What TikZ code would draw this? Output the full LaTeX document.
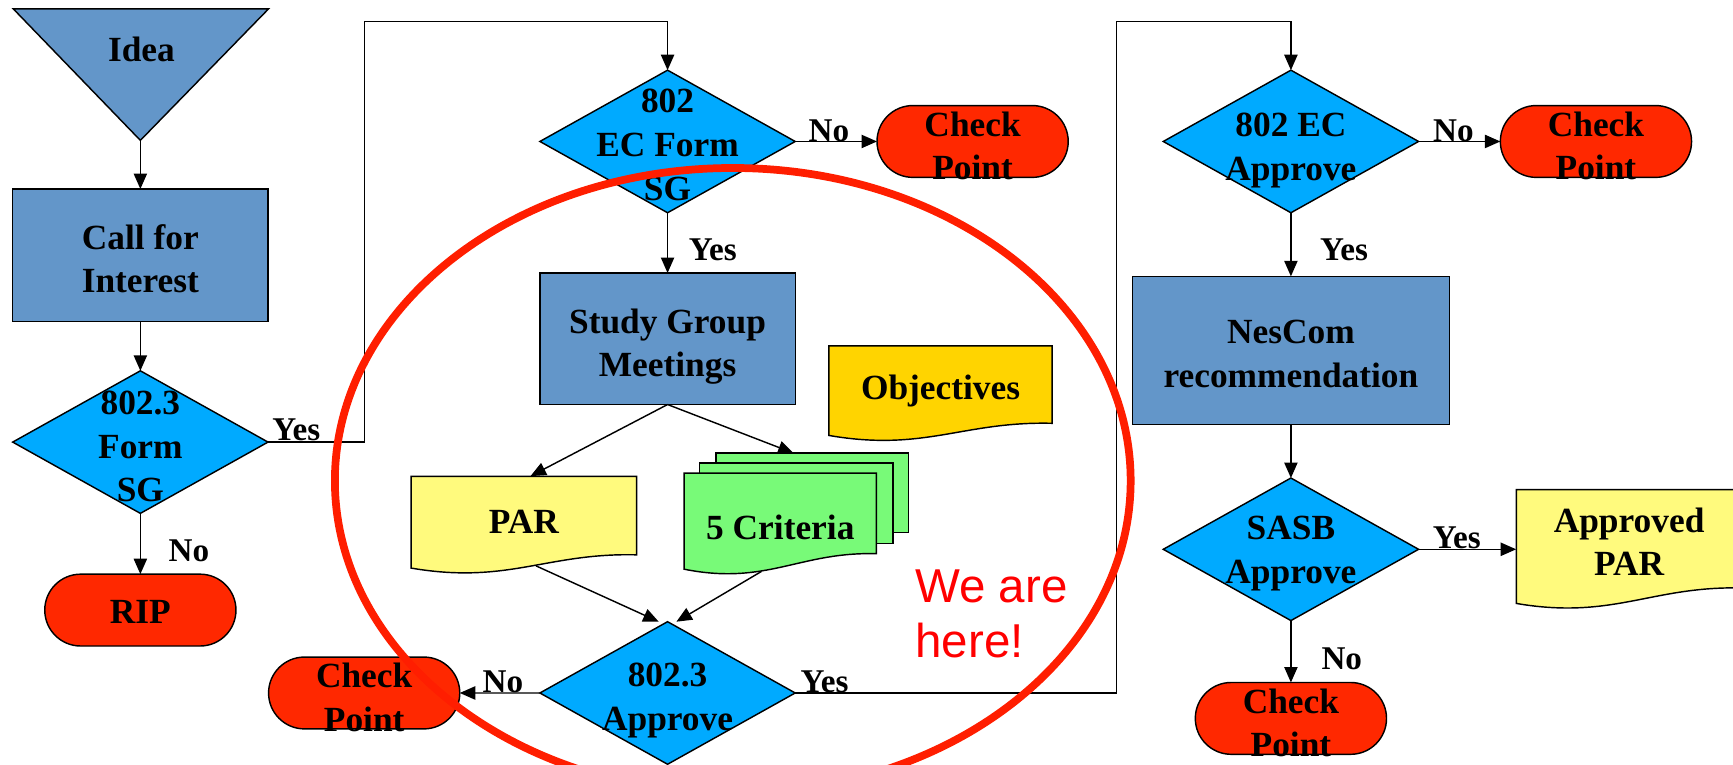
\documentclass[tikz,border=0pt]{standalone}
\usepackage{fontspec}
\setmainfont{Liberation Serif}
\newfontfamily\arialf{Liberation Sans}
\usetikzlibrary{shapes.geometric,shapes.misc,arrows.meta}
\definecolor{steel}{RGB}{99,150,201}
\definecolor{cyanb}{RGB}{0,170,255}
\definecolor{redt}{RGB}{255,40,0}
\definecolor{yel}{RGB}{255,250,125}
\definecolor{goldc}{RGB}{255,212,0}
\definecolor{grn}{RGB}{120,250,120}
\definecolor{ellred}{RGB}{255,30,0}
\definecolor{txtred}{RGB}{255,0,0}
\newcommand\ndfont{\fontsize{32}{39.5}\selectfont\bfseries}
\newcommand\lbfont{\fontsize{30}{36}\selectfont\bfseries}
% x0 x1 ytop yright yleft colour
\newcommand\docshape[6]{%
  \draw[base, fill=#6] (#1,-#3) -- (#2,-#3) -- (#2,-#4)
    .. controls ({#2-0.4*(#2-#1)},{-#4+2}) and ({#1+0.43*(#2-#1)},{-#5-15}) .. (#1,-#5) -- cycle;}
\begin{document}
\begin{tikzpicture}[x=1pt,y=1pt,
  base/.style={draw=black, line width=1.3pt, outer sep=0pt, inner sep=0pt},
  procbox/.style={base, rectangle, fill=steel},
  decis/.style={base, diamond, fill=cyanb, minimum width=231, minimum height=129},
  termbox/.style={base, rounded rectangle, fill=redt, minimum width=173, minimum height=65},
  txt/.style={font=\ndfont, align=center, text=black, inner sep=0pt},
  lbl/.style={font=\lbfont, inner sep=0pt},
  conn/.style={line width=1.3pt, -{Triangle[length=14pt,width=12pt]}}]
\useasboundingbox (0,0) rectangle (1568,-692);

% ---- left column
\draw[base, fill=steel] (12,-8) -- (243,-8) -- (127,-127) -- cycle;
\node[txt] (idea) at (128,-45) {Idea};
\coordinate (ideatip) at (127,-127);
\node[procbox, minimum width=231, minimum height=120, label={[txt, yshift=-3pt]center:{Call for\\Interest}}] (cfi) at (127,-231) {};
\node[decis, label={[txt, yshift=-4pt]center:{802.3\\Form\\SG}}] (f3) at (127,-400) {};
\node[termbox, label={[txt, yshift=-2pt]center:RIP}] (rip) at (127,-552) {};
\draw[conn] (ideatip) -- (cfi);
\draw[conn] (cfi) -- (f3);
\draw[conn] (f3) -- (rip);
\node[lbl] (noA) at (171,-498) {No};

% ---- middle column
\node[decis, label={[txt, yshift=-3pt]center:{802\\EC Form\\SG}}] (ecf) at (604,-128) {};
\node[termbox, label={[txt, yshift=-4pt]center:{Check\\Point}}] (cp1) at (880,-128) {};
\node[procbox, minimum width=231, minimum height=119, label={[txt, yshift=-7pt]center:{Study Group\\Meetings}}] (sgm) at (604,-306.5) {};
\draw[conn] (f3.east) -- ++(87.5,0) |- ([yshift=44pt]ecf.north) -- (ecf.north);
\node[lbl] (yesA) at (268,-389) {Yes};
\draw[conn] (ecf) -- (cp1);
\node[lbl] (noB) at (750,-118) {No};
\draw[conn] (ecf) -- (sgm);
\node[lbl] (yesB) at (645,-226) {Yes};

% documents
\docshape{750}{952}{313}{383}{394}{goldc}
\node[txt, minimum width=202, minimum height=70] (obj) at (851,-354) {Objectives};
\docshape{372}{576}{431}{502}{514}{yel}
\node[txt, minimum width=204, minimum height=80] (par) at (474,-472) {PAR};
\draw[base, fill=grn] (648,-410) rectangle (822,-482);
\draw[base, fill=grn] (633,-419) rectangle (808,-492);
\docshape{619}{793}{428}{501}{515}{grn}
\node[txt, minimum width=174, minimum height=70] (crit) at (706,-477) {5 Criteria};
\coordinate (crittop) at (718,-410);
\coordinate (parbot) at (485,-512);
\coordinate (critbot) at (689,-517);
\draw[conn] (sgm.south) -- ([xshift=6pt, yshift=1pt]par.north);
\draw[conn] (sgm.south) -- (crittop);

\node[decis, label={[txt, yshift=-7pt]center:{802.3\\Approve}}] (ap) at (604,-627) {};
\draw[conn] (parbot) -- ([xshift=-8pt]ap.north);
\draw[conn] (critbot) -- ([xshift=8pt]ap.north);
\node[termbox, label={[txt, yshift=-4pt]center:{Check\\Point}}] (cp2) at (329.5,-627) {};
\draw[conn] (ap) -- (cp2);
\node[lbl] (noC) at (455,-617) {No};

% ---- right column
\node[decis, label={[txt, yshift=-8pt]center:{802 EC\\Approve}}] (eca) at (1168,-128) {};
\node[termbox, label={[txt, yshift=-4pt]center:{Check\\Point}}] (cp3) at (1444,-128) {};
\node[procbox, minimum width=287, minimum height=134, label={[txt, yshift=-3pt]center:{NesCom\\recommendation}}] (nes) at (1168,-317) {};
\node[decis, label={[txt, yshift=-4pt]center:{SASB\\Approve}}] (sasb) at (1168,-497) {};
\node[termbox, label={[txt, yshift=-4pt]center:{Check\\Point}}] (cp4) at (1168,-650) {};
\docshape{1372}{1576}{443}{532}{546}{yel}
\node[txt, minimum width=204, minimum height=90] (apar) at (1474,-490) {Approved\\PAR};

\draw[conn] (ap.east) -- ++(290.5,0) |- ([yshift=44pt]eca.north) -- (eca.north);
\node[lbl] (yesC) at (746,-617) {Yes};
\draw[conn] (eca) -- (cp3);
\node[lbl] (noD) at (1315,-118) {No};
\draw[conn] (eca) -- (nes);
\node[lbl] (yesD) at (1216,-226) {Yes};
\draw[conn] (nes) -- (sasb);
\draw[conn] (sasb.east) -- (sasb.east -| apar.west);
\node[lbl] (yesE) at (1318,-487) {Yes};
\draw[conn] (sasb) -- (cp4);
\node[lbl] (noE) at (1214,-596) {No};

% ---- highlight
\draw[line width=7pt, draw=ellred] (663,-435) ellipse [x radius=360, y radius=283];
\node[align=left, font=\arialf\fontsize{43}{50}\selectfont, text=txtred, inner sep=0pt, anchor=north west] (here) at (828,-515) {We are\\here!};
\end{tikzpicture}
\end{document}
